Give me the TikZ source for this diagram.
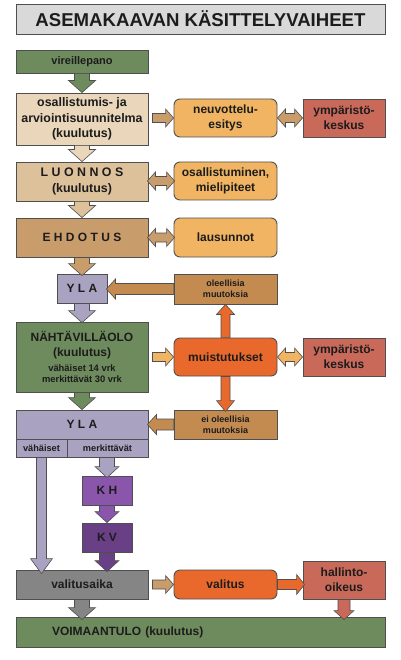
\documentclass[tikz,border=0pt]{standalone}
\usepackage{fontspec}
\setmainfont{Liberation Sans}
\usetikzlibrary{calc}
\definecolor{edgec}{HTML}{4F4F4F}
\definecolor{txt}{HTML}{1C1C1C}
\definecolor{titlef}{HTML}{D9D9D9}
\definecolor{greenc}{HTML}{6E8B5E}
\definecolor{osalc}{HTML}{EAD6BA}
\definecolor{luonc}{HTML}{DDC19B}
\definecolor{ehdc}{HTML}{C99C6C}
\definecolor{lorc}{HTML}{F0B462}
\definecolor{ympc}{HTML}{C9695A}
\definecolor{ylac}{HTML}{A9A3C1}
\definecolor{oleelc}{HTML}{C48B50}
\definecolor{muistc}{HTML}{E9692C}
\definecolor{khc}{HTML}{8A56AC}
\definecolor{kvc}{HTML}{693F86}
\definecolor{valic}{HTML}{858585}
\definecolor{tanc}{HTML}{C99C6C}
\tikzset{
  box/.style={draw=edgec, line width=0.9pt, inner sep=0pt, align=center, text=txt,
    font=\bfseries\fontsize{12}{15}\selectfont},
  rbox/.style={box, rounded corners=6pt},
  arr/.style={draw=edgec, line width=0.6pt, line join=miter},
  small/.style={font=\bfseries\fontsize{9}{11}\selectfont},
}
% single block arrow: from, to, colour, shaft half width, head half width, head length
\newcommand\blockarr[6]{%
  \filldraw[arr,fill=#3] let \p1=(#1), \p2=(#2),
    \n1={atan2(\y2-\y1,\x2-\x1)}, \n2={veclen(\x2-\x1,\y2-\y1)} in
    ($(\p1)+(\n1+90:#4)$)
    -- ($(\p1)+(\n1:\n2*1pt-#6)+(\n1+90:#4)$)
    -- ($(\p1)+(\n1:\n2*1pt-#6)+(\n1+90:#5)$)
    -- (\p2)
    -- ($(\p1)+(\n1:\n2*1pt-#6)+(\n1-90:#5)$)
    -- ($(\p1)+(\n1:\n2*1pt-#6)+(\n1-90:#4)$)
    -- ($(\p1)+(\n1-90:#4)$) -- cycle;}
% double block arrow
\newcommand\dblarr[6]{%
  \filldraw[arr,fill=#3] let \p1=(#1), \p2=(#2),
    \n1={atan2(\y2-\y1,\x2-\x1)}, \n2={veclen(\x2-\x1,\y2-\y1)} in
    (\p1)
    -- ($(\p1)+(\n1:#6)+(\n1+90:#5)$)
    -- ($(\p1)+(\n1:#6)+(\n1+90:#4)$)
    -- ($(\p1)+(\n1:\n2*1pt-#6)+(\n1+90:#4)$)
    -- ($(\p1)+(\n1:\n2*1pt-#6)+(\n1+90:#5)$)
    -- (\p2)
    -- ($(\p1)+(\n1:\n2*1pt-#6)+(\n1-90:#5)$)
    -- ($(\p1)+(\n1:\n2*1pt-#6)+(\n1-90:#4)$)
    -- ($(\p1)+(\n1:#6)+(\n1-90:#4)$)
    -- ($(\p1)+(\n1:#6)+(\n1-90:#5)$) -- cycle;}
\begin{document}
\begin{tikzpicture}[x=1pt,y=-1pt]
\useasboundingbox[fill=white] (0,0) rectangle (400,660);

% title
\node[box, fill=titlef, minimum width=369pt, minimum height=30pt,
  font=\bfseries\fontsize{18.6}{20}\selectfont] (title) at (200.5,19) {ASEMAKAAVAN KÄSITTELYVAIHEET};

% left column
\node[box, fill=greenc, minimum width=132pt, minimum height=23pt,
  font=\bfseries\fontsize{11}{13}\selectfont] (vire) at (82,61.5) {vireillepano};
\node[box, fill=osalc, minimum width=132pt, minimum height=52pt,
  font=\bfseries\fontsize{12.4}{15.5}\selectfont] (osal) at (82,119) {osallistumis- ja\\arviointisuunnitelma\\(kuulutus)};
\node[box, fill=luonc, minimum width=132pt, minimum height=39pt,
  font=\bfseries\fontsize{12.4}{15.5}\selectfont] (luon) at (82,181.5) {L U O N N O S\\(kuulutus)};
\node[box, fill=ehdc, minimum width=132pt, minimum height=39pt] (ehd) at (82,237.5) {E H D O T U S};
\node[box, fill=ylac, minimum width=50pt, minimum height=29pt] (yla1) at (82,288.5) {Y L A};
\node[box, fill=greenc, minimum width=132pt, minimum height=70pt] (naht) at (82,357)
  {NÄHTÄVILLÄOLO\\(kuulutus)\\[5pt]\parbox{132pt}{\centering\fontsize{9.4}{10.5}\selectfont vähäiset 14 vrk\\merkittävät 30 vrk}};
\node[box, fill=ylac, minimum width=132pt, minimum height=29pt] (yla2) at (82,424.5) {Y L A};
\node[box, small, fill=ylac, minimum width=51pt, minimum height=18pt,
  font=\bfseries\fontsize{9.2}{11}\selectfont] (vah) at (41.5,448) {vähäiset};
\node[box, small, fill=ylac, minimum width=81pt, minimum height=18pt,
  font=\bfseries\fontsize{9.2}{11}\selectfont] (merk) at (107.5,448) {merkittävät};
\node[box, fill=khc, minimum width=50pt, minimum height=29pt] (kh) at (107,490.5) {K H};
\node[box, fill=kvc, minimum width=50pt, minimum height=29pt] (kv) at (107,537.5) {K V};
\node[box, fill=valic, minimum width=132pt, minimum height=29pt] (vali) at (82,584.5) {valitusaika};
\node[box, fill=greenc, minimum width=369pt, minimum height=30pt, text width=297pt,
  inner xsep=36pt, align=left] (voim) at (200.5,632) {VOIMAANTULO (kuulutus)};

% middle column
\node[rbox, fill=lorc, minimum width=103pt, minimum height=38pt] (neuv) at (225.5,118) {neuvottelu-\\esitys};
\node[rbox, fill=lorc, minimum width=103pt, minimum height=38pt] (osall) at (225.5,181) {osallistuminen,\\mielipiteet};
\node[rbox, fill=lorc, minimum width=103pt, minimum height=39pt] (laus) at (225.5,237.5) {lausunnot};
\node[box, small, fill=oleelc, minimum width=103pt, minimum height=30pt] (oleel) at (225.5,289) {oleellisia\\muutoksia};
\node[rbox, fill=muistc, minimum width=103pt, minimum height=38pt] (muist) at (225.5,357) {muistutukset};
\node[box, small, fill=oleelc, minimum width=103pt, minimum height=29pt] (eiol) at (225.5,424.5) {ei oleellisia\\muutoksia};
\node[rbox, fill=muistc, minimum width=103pt, minimum height=29pt] (valitus) at (225.5,584.5) {valitus};

% right column
\node[box, fill=ympc, minimum width=82pt, minimum height=38pt] (ymp1) at (344,118) {ympäristö-\\keskus};
\node[box, fill=ympc, minimum width=82pt, minimum height=38pt] (ymp2) at (344,357) {ympäristö-\\keskus};
\node[box, fill=ympc, minimum width=82pt, minimum height=38pt] (hall) at (344,580) {hallinto-\\oikeus};

% main vertical arrows
\blockarr{vire.south}{osal.north}{greenc}{7.5pt}{13.5pt}{12pt}
\blockarr{osal.south}{luon.north}{osalc}{7.5pt}{13.5pt}{12pt}
\blockarr{luon.south}{ehd.north}{luonc}{7.5pt}{13.5pt}{12pt}
\blockarr{ehd.south}{$(yla1.north)+(0,-2pt)$}{ehdc}{7.5pt}{13.5pt}{12pt}
\blockarr{yla1.south}{$(naht.north)+(0,-1pt)$}{ylac}{7.5pt}{13.5pt}{12pt}
\blockarr{naht.south}{yla2.north}{greenc}{7.5pt}{13.5pt}{12pt}
\blockarr{kh.north |- merk.south}{$(kh.north)+(0,-2pt)$}{ylac}{7.5pt}{12pt}{11pt}
\blockarr{kh.south}{kv.north}{khc}{7.5pt}{12pt}{11pt}
\blockarr{kv.south}{$(kv.south |- vali.north)+(0,-2pt)$}{kvc}{7.5pt}{12pt}{11pt}
\blockarr{vah.south}{$(vah.south |- vali.north)+(0,-4pt)$}{ylac}{5pt}{11pt}{15pt}
\blockarr{vali.south}{$(vali.south |- voim.north)+(0,-3pt)$}{valic}{7.5pt}{13.5pt}{12pt}
\blockarr{hall.south}{$(hall.south |- voim.north)+(0,-3pt)$}{ympc}{6pt}{10pt}{9pt}

% horizontal arrows
\blockarr{$(osal.east |- neuv.west)+(4pt,0)$}{neuv.west}{tanc}{4.5pt}{9pt}{8pt}
\dblarr{neuv.east}{ymp1.west}{tanc}{4.5pt}{9pt}{8pt}
\dblarr{$(luon.east |- osall.west)+(-1pt,0)$}{$(osall.west)+(1pt,0)$}{tanc}{4.5pt}{9pt}{8pt}
\dblarr{$(ehd.east |- laus.west)+(-1pt,0)$}{$(laus.west)+(1pt,0)$}{tanc}{4.5pt}{9pt}{8pt}
\blockarr{oleel.west}{$(yla1.east |- oleel.west)+(-1pt,0)$}{oleelc}{5.5pt}{10pt}{9pt}
\blockarr{$(naht.east |- muist.west)+(4pt,0)$}{muist.west}{lorc}{4.5pt}{9pt}{8pt}
\dblarr{muist.east}{ymp2.west}{lorc}{4.5pt}{9pt}{8pt}
\blockarr{eiol.west}{$(yla2.east |- eiol.west)+(-1pt,0)$}{oleelc}{5.5pt}{10pt}{9pt}
\blockarr{$(vali.east)+(4pt,0)$}{valitus.west}{tanc}{4.5pt}{9pt}{8pt}
\blockarr{valitus.east}{$(hall.west |- valitus.east)+(2pt,0)$}{muistc}{5pt}{10pt}{8pt}

% orange vertical arrows
\blockarr{muist.north}{oleel.south}{muistc}{4.5pt}{9pt}{10pt}
\blockarr{muist.south}{$(eiol.north)+(0,-2pt)$}{muistc}{4.5pt}{9pt}{11pt}
\end{tikzpicture}
\end{document}
